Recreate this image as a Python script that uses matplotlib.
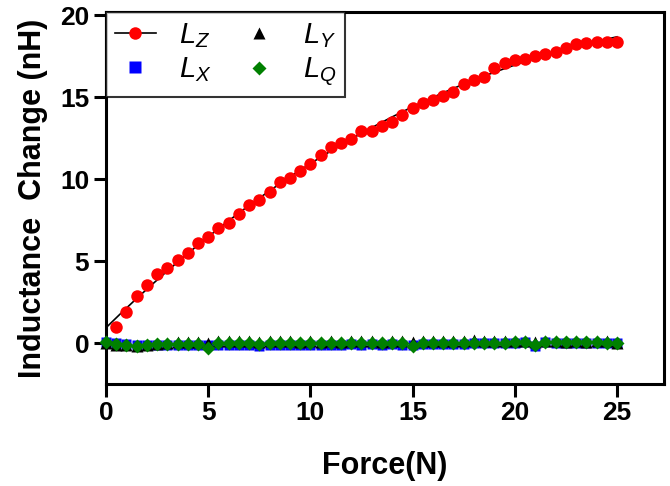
import numpy as np
import matplotlib.pyplot as plt
from matplotlib.lines import Line2D

plt.rcParams['font.family'] = 'Liberation Sans'
plt.rcParams['mathtext.fontset'] = 'custom'
plt.rcParams['mathtext.it'] = 'Liberation Sans:italic'
plt.rcParams['mathtext.rm'] = 'Liberation Sans'

# Dane
force = np.arange(0, 25.01, 0.5)

force_z = force[1:]
L_z = [0.95, 1.9, 2.85, 3.55, 4.22, 4.6, 5.05, 5.5, 6.12, 6.45,
       7.03, 7.32, 7.88, 8.4, 8.7, 9.19, 9.83, 10.06, 10.52, 10.92,
       11.48, 11.97, 12.2, 12.46, 12.95, 12.95, 13.22, 13.46, 13.9, 14.36,
       14.63, 14.84, 15.09, 15.32, 15.83, 16.05, 16.26, 16.77, 17.07, 17.27,
       17.35, 17.5, 17.62, 17.74, 17.98, 18.23, 18.29, 18.35, 18.39, 18.37]

L_x = [0.05, 0.0, -0.05, -0.1, -0.15, -0.15, -0.1, -0.12, -0.1, -0.12,
       -0.15, -0.12, -0.1, -0.12, -0.15, -0.2, -0.15, -0.12, -0.15, -0.12,
       -0.15, -0.1, -0.12, -0.1, -0.08, -0.1, -0.08, -0.1, -0.08, -0.1,
       -0.12, -0.05, -0.08, -0.05, -0.05, -0.03, 0.0, 0.02, 0.0, 0.02,
       0.0, 0.05, -0.2, 0.05, 0.02, 0.0, -0.02, 0.0, 0.0, 0.02, 0.0]

L_y = [0.0, -0.1, -0.15, -0.2, -0.15, -0.05, 0.0, 0.05, 0.05, 0.05,
       0.0, 0.1, 0.1, 0.1, 0.1, 0.05, 0.1, 0.1, 0.1, 0.05,
       0.1, 0.05, 0.1, 0.05, 0.1, 0.1, 0.1, 0.05, 0.1, 0.1,
       0.05, 0.1, 0.1, 0.1, 0.15, 0.1, 0.2, 0.1, 0.1, 0.15,
       0.1, 0.1, 0.05, 0.1, 0.1, 0.05, 0.1, 0.05, 0.1, 0.1, 0.0]

L_q = [0.05, -0.05, -0.1, -0.2, -0.1, -0.05, -0.05, -0.05, -0.05, -0.05,
       -0.3, 0.0, 0.0, 0.0, 0.0, -0.05, 0.0, 0.0, 0.0, 0.0,
       0.0, 0.0, 0.0, 0.0, 0.0, 0.0, 0.0, 0.0, 0.0, 0.0,
       -0.2, 0.0, 0.0, 0.0, 0.0, 0.0, 0.0, 0.0, 0.0, 0.0,
       0.05, 0.05, -0.1, 0.05, 0.05, 0.05, 0.05, 0.05, 0.05, 0.0, 0.0]

# Krzywa dopasowana do L_z
coef = np.polyfit(force_z, L_z, 3)
xi = np.linspace(0, 25, 300)
yi = np.polyval(coef, xi)

fig = plt.figure(figsize=(6.7, 4.86), dpi=100)
ax = fig.add_axes([0.1582, 0.2099, 0.8328, 0.7654])

ax.plot(force, L_x, 's', color='blue', ms=7.5, mec='none', clip_on=False, zorder=3)
ax.plot(force, L_y, '^', color='black', ms=8.5, mec='none', clip_on=False, zorder=4)
ax.plot(force, L_q, 'D', color='green', ms=7.5, mec='none', clip_on=False, zorder=5)
ax.plot(xi, yi, '-', color='black', lw=1.2, zorder=6)
ax.plot(force_z, L_z, 'o', color='red', ms=9, mec='none', zorder=7)

ax.set_xlim(0, 27.3)
ax.set_ylim(-2.5, 20.2)
ax.set_xticks([0, 5, 10, 15, 20, 25])
ax.set_yticks([0, 5, 10, 15, 20])

for s in ax.spines.values():
    s.set_linewidth(2.2)
ax.tick_params(width=2.2, length=9, labelsize=19, pad=3)
for lab in ax.get_xticklabels() + ax.get_yticklabels():
    lab.set_fontweight('bold')

ax.set_xlabel('Force(N)', fontsize=22, fontweight='bold', labelpad=19)
ax.set_ylabel('Inductance  Change (nH)', fontsize=22, fontweight='bold', labelpad=9)

handles = [
    Line2D([], [], color='black', lw=1.2, marker='o', mfc='red', mec='none', ms=9),
    Line2D([], [], ls='none', marker='s', color='blue', mec='none', ms=8),
    Line2D([], [], ls='none', marker='^', color='black', mec='none', ms=8.5),
    Line2D([], [], ls='none', marker='D', color='green', mec='none', ms=7.5),
]
labels = ['$L_Z$', '$L_X$', '$L_Y$', '$L_Q$']
leg = ax.legend(handles, labels, loc='upper left', ncol=2, fontsize=21,
                frameon=True, fancybox=False, borderaxespad=0,
                handlelength=1.4, handletextpad=0.8, columnspacing=0.95,
                borderpad=0.3, labelspacing=0.2)
leg.get_frame().set_edgecolor('black')
leg.get_frame().set_linewidth(1.5)
leg.set_zorder(10)

fig.savefig('out.png', dpi=100)
